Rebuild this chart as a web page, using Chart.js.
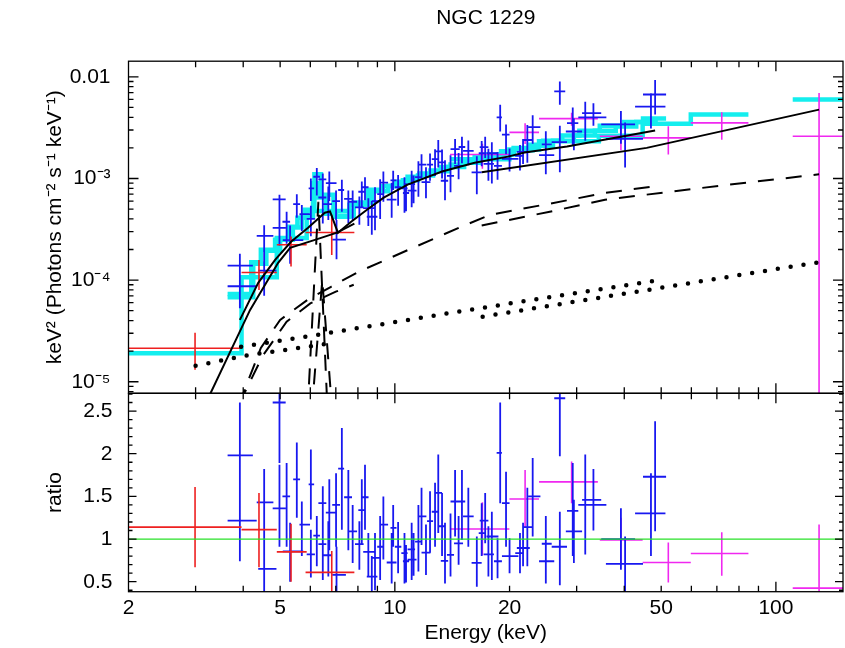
<!DOCTYPE html>
<html>
<head>
<meta charset="utf-8">
<script src="https://cdn.jsdelivr.net/npm/chart.js@4.4.1/dist/chart.umd.min.js"></script>
<style>
  html, body { margin: 0; padding: 0; background: #fff; }
  #wrap { position: relative; width: 845px; height: 648px; }
  #wrap canvas { position: absolute; left: 0; top: 0; }
</style>
</head>
<body>
<div id="wrap">
  <canvas id="specChart" width="845" height="648"></canvas>
  <canvas id="ratioChart" width="845" height="648"></canvas>
</div>
<script>
// ---- axis ranges ----
const eMin = 2, eMax = 150;
const fluxMin = 7.7e-6, fluxMax = 0.01425;
const ratioMin = 0.383, ratioMax = 2.708;

// ---- red spectrum (low energy) ----
const redE = [2.99, 4.40, 5.34, 6.83];
const redElo = [2.0, 3.96, 4.90, 5.83];
const redEhi = [3.96, 4.90, 5.87, 7.83];
const redFlux = [2.14e-5, 1.19e-4, 2.23e-4, 2.94e-4];
const redFluxLo = [1.31e-5, 8.0e-5, 1.36e-4, 1.77e-4];
const redFluxHi = [3.03e-5, 1.58e-4, 2.69e-4, 4.40e-4];
const redRatio = [1.14, 1.11, 0.85, 0.61];
const redRatioLo = [0.67, 0.67, 0.50, 0.30];
const redRatioHi = [1.61, 1.54, 1.18, 0.86];

// ---- blue spectrum ----
const blueE = [
  3.92, 3.92, 4.54, 4.54, 4.98, 4.98, 5.20, 5.31, 5.53, 5.70,
  6.02, 6.02, 6.24, 6.47, 6.47, 6.69, 6.73, 7.01, 7.03, 7.26,
  7.55, 7.75, 8.07, 8.19, 8.35, 8.52, 8.70, 8.87, 9.15, 9.33,
  9.81, 9.90, 10.2, 10.6, 10.7, 11.07, 11.2, 11.53, 11.75, 12.07,
  12.37, 12.75, 13.0, 13.3, 13.54, 14.0, 14.39, 14.7, 15.0, 15.59,
  16.41, 16.9, 17.26, 17.6, 17.97, 18.6, 18.9, 19.58, 20.0, 21.3,
  21.7, 22.27, 23.0, 24.9, 24.9, 27.1, 27.1, 29.3, 29.5, 31.6,
  33.2, 39.2, 40.2, 47.0, 48.2];
const blueElo = [
  3.64, 3.64, 4.34, 4.38, 4.78, 4.78, 5.07, 5.08, 5.41, 5.62,
  5.94, 5.87, 6.11, 6.30, 6.30, 6.48, 6.59, 6.85, 6.85, 7.10,
  7.36, 7.55, 7.86, 8.02, 8.18, 8.26, 8.44, 8.70, 8.99, 9.15,
  9.52, 9.74, 10.0, 10.4, 10.5, 10.8, 10.8, 11.3, 11.5, 11.75,
  12.15, 12.5, 12.75, 13.0, 13.2, 13.7, 14.0, 14.3, 14.7, 15.1,
  15.9, 16.6, 16.7, 17.1, 17.4, 18.2, 18.5, 19.1, 19.1, 20.7,
  20.9, 21.6, 22.4, 24.3, 23.9, 26.2, 25.8, 28.3, 28.1, 30.3,
  31.0, 34.8, 35.8, 42.7, 44.8];
const blueEhi = [
  4.24, 4.34, 4.80, 4.89, 5.17, 5.17, 5.31, 5.75, 5.64, 5.99,
  6.14, 6.17, 6.36, 6.61, 6.61, 6.84, 7.03, 7.18, 7.44, 7.36,
  7.72, 7.96, 8.28, 8.35, 8.53, 8.90, 9.00, 9.15, 9.33, 9.60,
  10.1, 10.1, 10.4, 10.8, 10.9, 11.3, 11.4, 11.75, 12.1, 12.4,
  12.6, 13.0, 13.3, 13.5, 13.8, 14.3, 14.8, 15.1, 15.3, 16.1,
  16.9, 17.3, 17.6, 18.2, 18.7, 19.1, 19.1, 20.0, 21.1, 21.8,
  22.6, 22.9, 24.1, 25.8, 26.2, 28.0, 28.3, 30.3, 31.0, 35.9,
  34.8, 42.7, 44.8, 51.3, 51.5];
const blueFlux = [
  1.39e-4, 8.7e-5, 2.72e-4, 1.24e-4, 6.24e-4, 3.26e-4, 3.75e-4, 2.48e-4, 5.6e-4, 4.45e-4,
  8.0e-4, 4.0e-4, 1.04e-3, 9.8e-4, 6.5e-4, 5.6e-4, 9.0e-4, 6.0e-4, 2.5e-4, 7.7e-4,
  6.3e-4, 5.9e-4, 5.2e-4, 7.4e-4, 8.2e-4, 5.1e-4, 4.2e-4, 6.0e-4, 7.0e-4, 9.1e-4,
  6.2e-4, 9.6e-4, 8.2e-4, 8.0e-4, 7.2e-4, 8.8e-4, 7.6e-4, 1.03e-3, 1.37e-3, 9.2e-4,
  1.37e-3, 1.55e-3, 1.85e-3, 1.44e-3, 9.5e-4, 1.06e-3, 1.94e-3, 1.33e-3, 2.04e-3, 1.87e-3,
  1.15e-3, 1.77e-3, 2.03e-3, 1.39e-3, 1.77e-3, 1.33e-3, 4.0e-3, 2.7e-3, 1.56e-3, 1.67e-3,
  1.83e-3, 2.39e-3, 3.2e-3, 2.17e-3, 1.7e-3, 7.2e-3, 2.28e-3, 3.5e-3, 2.9e-3, 4.0e-3,
  4.4e-3, 3.4e-3, 2.45e-3, 5.1e-3, 6.7e-3];
const blueFluxLo = [
  9.5e-5, 5.3e-5, 1.96e-4, 7.0e-5, 4.5e-4, 2.18e-4, 2.28e-4, 1.45e-4, 4.1e-4, 3.04e-4,
  6.0e-4, 2.7e-4, 6.8e-4, 6.4e-4, 3.6e-4, 3.9e-4, 6.0e-4, 3.9e-4, 1.6e-4, 4.7e-4,
  3.65e-4, 3.9e-4, 3.5e-4, 5.2e-4, 6.1e-4, 3.4e-4, 2.8e-4, 3.1e-4, 4.0e-4, 5.9e-4,
  4.1e-4, 7.7e-4, 5.4e-4, 4.6e-4, 4.75e-4, 5.2e-4, 5.7e-4, 6.6e-4, 1.0e-3, 6.4e-4,
  9.5e-4, 1.06e-3, 1.28e-3, 1.0e-3, 6.1e-4, 7.3e-4, 1.39e-3, 9.8e-4, 1.41e-3, 1.35e-3,
  7.0e-4, 1.32e-3, 1.59e-3, 9.5e-4, 8.9e-4, 9.7e-4, 2.9e-3, 1.73e-3, 1.17e-3, 1.2e-3,
  1.39e-3, 1.43e-3, 2.2e-3, 1.47e-3, 1.1e-3, 5.3e-3, 1.15e-3, 2.1e-3, 1.9e-3, 2.35e-3,
  3.3e-3, 2.2e-3, 1.28e-3, 3.1e-3, 4.25e-3];
const blueFluxHi = [
  1.82e-4, 1.22e-4, 3.46e-4, 1.96e-4, 6.9e-4, 4.5e-4, 4.7e-4, 3.45e-4, 7.0e-4, 5.47e-4,
  1.0e-3, 5.4e-4, 1.27e-3, 1.12e-3, 8.35e-4, 8.35e-4, 1.17e-3, 7.6e-4, 3.9e-4, 9.7e-4,
  7.6e-4, 7.6e-4, 6.65e-4, 9.35e-4, 1.03e-3, 6.4e-4, 6.0e-4, 8.2e-4, 9.8e-4, 1.17e-3,
  9.1e-4, 1.19e-3, 1.08e-3, 1.03e-3, 9.0e-4, 1.19e-3, 1.07e-3, 1.48e-3, 1.73e-3, 1.29e-3,
  1.76e-3, 1.94e-3, 2.39e-3, 1.93e-3, 1.51e-3, 1.69e-3, 2.44e-3, 1.78e-3, 2.57e-3, 2.37e-3,
  1.65e-3, 2.34e-3, 2.57e-3, 1.96e-3, 2.27e-3, 1.82e-3, 5.3e-3, 3.4e-3, 1.97e-3, 2.14e-3,
  2.44e-3, 3.36e-3, 4.2e-3, 2.92e-3, 2.19e-3, 9.0e-3, 3.3e-3, 5.0e-3, 3.9e-3, 5.7e-3,
  5.5e-3, 4.6e-3, 3.55e-3, 6.9e-3, 9.3e-3];
const blueRatio = [
  1.98, 1.215, 1.43, 0.65, 2.60, 1.36, 1.50, 0.855, 1.70, 1.17,
  1.64, 0.82, 1.04, 1.42, 0.94, 0.81, 1.31, 1.40, 0.58, 1.825,
  1.49, 1.09, 0.94, 1.34, 1.49, 0.85, 0.56, 0.78, 0.91, 1.17,
  0.725, 1.13, 0.91, 0.835, 0.74, 0.88, 0.76, 0.97, 1.265, 0.84,
  1.21, 1.32, 1.54, 1.15, 0.745, 0.815, 1.44, 0.95, 1.44, 1.265,
  0.72, 1.07, 1.215, 0.82, 1.03, 0.74, 2.01, 1.42, 0.80, 0.835,
  0.895, 1.14, 1.50, 0.945, 0.74, 2.65, 0.91, 1.33, 1.09, 1.40,
  1.46, 1.0, 0.71, 1.30, 1.73];
const blueRatioLo = [
  1.36, 0.74, 1.03, 0.37, 1.89, 0.91, 0.91, 0.50, 1.25, 0.80,
  1.23, 0.55, 0.68, 0.93, 0.52, 0.56, 0.87, 0.91, 0.37, 1.11,
  0.87, 0.72, 0.64, 0.95, 1.11, 0.56, 0.37, 0.40, 0.52, 0.76,
  0.48, 0.91, 0.60, 0.48, 0.49, 0.52, 0.57, 0.62, 0.93, 0.58,
  0.84, 0.91, 1.07, 0.80, 0.48, 0.56, 1.03, 0.70, 0.99, 0.91,
  0.44, 0.80, 0.95, 0.56, 0.52, 0.54, 1.42, 0.91, 0.60, 0.60,
  0.68, 0.68, 1.03, 0.64, 0.48, 1.97, 0.46, 0.80, 0.72, 0.82,
  1.10, 0.64, 0.37, 0.80, 1.09];
const blueRatioHi = [
  2.60, 1.70, 1.82, 1.03, 2.89, 1.87, 1.89, 1.19, 2.13, 1.44,
  2.05, 1.11, 1.27, 1.62, 1.21, 1.21, 1.70, 1.77, 0.91, 2.30,
  1.81, 1.40, 1.21, 1.70, 1.87, 1.07, 0.80, 1.07, 1.27, 1.50,
  1.07, 1.40, 1.20, 1.07, 0.93, 1.19, 1.07, 1.40, 1.60, 1.17,
  1.56, 1.66, 1.99, 1.54, 1.19, 1.30, 1.81, 1.27, 1.81, 1.60,
  1.03, 1.42, 1.54, 1.15, 1.32, 1.01, 2.60, 1.79, 1.01, 1.07,
  1.19, 1.60, 1.95, 1.27, 0.95, 2.75, 1.32, 1.89, 1.46, 1.99,
  1.82, 1.36, 1.03, 1.77, 2.38];

// ---- magenta spectrum (hard X-ray) ----
const magE = [16.97, 21.97, 29.1, 39.2, 52.2, 72.1, 129.8];
const magElo = [13.96, 19.98, 23.9, 34.5, 44.7, 59.8, 110.7];
const magEhi = [19.98, 23.9, 34.1, 44.7, 59.8, 84.7, 150];
const magFlux = [1.72e-3, 2.84e-3, 3.88e-3, 2.6e-3, 2.51e-3, 3.52e-3, 2.6e-3];
const magFluxLo = [1.25e-3, 2.18e-3, 3.3e-3, 1.9e-3, 1.72e-3, 2.41e-3, 1e-7];
const magFluxHi = [2.2e-3, 3.5e-3, 4.43e-3, 3.3e-3, 3.26e-3, 4.48e-3, 6.95e-3];
const magRatio = [1.117, 1.47, 1.67, 0.99, 0.725, 0.83, 0.425];
const magRatioLo = [0.81, 1.13, 1.42, 0.72, 0.49, 0.57, -1];
const magRatioHi = [1.43, 1.81, 1.91, 1.25, 0.96, 1.08, 1.17];

// ---- folded models (cyan histograms): bin edges + values ----
const cyanXmmEdges = [2.0, 3.96, 4.90, 5.87, 7.83];
const cyanXmmVal = [1.91e-5, 1.07e-4, 2.6e-4, 4.8e-4];
const cyanNuAEdges = [3.64, 4.2, 4.45, 4.85, 5.25, 5.55, 5.8, 6.15, 6.4, 6.9, 7.6, 8.5, 9.3, 10.0, 10.8,
  11.6, 12.4, 13.2, 14.0, 15.0, 16.2, 17.5, 19.0, 20.5, 22.5, 24.5, 27.5, 30.5, 34.5, 40.0, 44.8, 51.5];
const cyanNuAVal = [7.3e-5, 1.5e-4, 1.99e-4, 2.49e-4, 3.35e-4, 4.11e-4, 4.93e-4, 1.1e-3, 6.9e-4, 4.2e-4,
  5.5e-4, 7.76e-4, 8.4e-4, 9.3e-4, 1.04e-3, 1.12e-3, 1.2e-3, 1.3e-3, 1.37e-3, 1.5e-3,
  1.62e-3, 1.72e-3, 1.85e-3, 2.0e-3, 2.15e-3, 2.35e-3, 2.65e-3, 2.95e-3, 3.3e-3, 3.6e-3, 3.9e-3];
const cyanNuBEdges = [3.64, 4.25, 4.6, 5.0, 5.4, 5.7, 6.1, 6.3, 6.6, 7.0, 7.8, 8.7, 9.6, 10.5, 11.5,
  12.6, 13.8, 15.2, 16.8, 18.5, 20.5, 23.0, 26.0, 29.5, 33.5, 38.0, 43.0, 49.0];
const cyanNuBVal = [6.8e-5, 1.45e-4, 1.95e-4, 2.5e-4, 3.3e-4, 4.2e-4, 9.0e-4, 6.5e-4, 4.5e-4, 4.3e-4,
  5.8e-4, 7.5e-4, 8.5e-4, 9.6e-4, 1.07e-3, 1.18e-3, 1.3e-3, 1.43e-3, 1.57e-3, 1.72e-3,
  1.9e-3, 2.1e-3, 2.35e-3, 2.65e-3, 2.95e-3, 3.25e-3, 3.6e-3];
const cyanBatEdges = [13.96, 19.98, 23.9, 34.3, 44.7, 59.8, 84.7, 110.7, 150];
const cyanBatVal = [1.55e-3, 1.93e-3, 2.32e-3, 2.63e-3, 3.46e-3, 4.25e-3, null, 6.0e-3];

// ---- unfolded model curves (black) ----
const totNuE = [3.92, 4.04, 4.38, 4.85, 5.34, 5.92, 6.55, 6.76, 7.09, 7.68, 8.45, 9.35, 10.8, 13.3, 16.2, 19.8, 21.9, 28.3, 48.2];
const totNuV = [4.06e-5, 5.1e-5, 9.4e-5, 1.58e-4, 2.38e-4, 3.27e-4, 4.6e-4, 4.75e-4, 2.92e-4, 3.75e-4, 4.93e-4, 6.47e-4, 8.7e-4, 1.17e-3, 1.43e-3, 1.64e-3, 1.8e-3, 2.06e-3, 2.96e-3];
const totXmmE = [3.2, 4.17, 4.48, 4.94, 5.31, 6.17, 7.05, 7.83];
const totXmmV = [6.3e-6, 5.09e-5, 8.0e-5, 1.48e-4, 2.08e-4, 2.49e-4, 2.93e-4, 3.6e-4];
const totBatE = [16.9, 45.8, 129.8];
const totBatV = [1.15e-3, 2.0e-3, 4.76e-3];

const contNuE = [3.9, 4.45, 5.0, 5.9, 6.8, 8.0, 10.9, 14.8, 17.8, 25.5, 35.6, 48.2];
const contNuV = [6e-6, 2.15e-5, 4.06e-5, 6.4e-5, 8.6e-5, 1.2e-4, 2.0e-4, 3.3e-4, 4.4e-4, 5.65e-4, 7.2e-4, 8.4e-4];
const contXmmE = [3.9, 4.5, 5.2, 6.0, 7.0, 7.8];
const contXmmV = [6e-6, 1.8e-5, 3.9e-5, 5.9e-5, 7.7e-5, 9.0e-5];
const contBatE = [16.9, 25.5, 35.6, 61.4, 88.2, 129.8];
const contBatV = [3.45e-4, 4.71e-4, 6.18e-4, 7.93e-4, 9.3e-4, 1.1e-3];
const feNuE = [5.9, 6.3, 6.66];
const feNuV = [5e-6, 5.9e-4, 5e-6];
const feXmmE = [6.05, 6.45, 6.85];
const feXmmV = [5e-6, 1.0e-4, 5e-6];

const reflXmmE = [3.0, 4.17, 6.4, 7.0];
const reflXmmV = [1.44e-5, 1.84e-5, 2.31e-5, 2.45e-5];
const reflNuE = [3.95, 6.48, 16.2, 44.0, 48.2];
const reflNuV = [2.21e-5, 2.96e-5, 5.2e-5, 9.33e-5, 9.85e-5];
const reflBatE = [17.0, 125.3, 129.8];
const reflBatV = [4.37e-5, 1.47e-4, 1.5e-4];

// ---- helpers ----
const SUP = {'-': '\u207B', '0': '\u2070', '1': '\u00B9', '2': '\u00B2', '3': '\u00B3', '4': '\u2074',
  '5': '\u2075', '6': '\u2076', '7': '\u2077', '8': '\u2078', '9': '\u2079'};
const sup = n => String(n).split('').map(c => SUP[c]).join('');
const isDecade = v => { const l = Math.log10(v); return Math.abs(l - Math.round(l)) < 1e-6; };

function logTicks(min, max) {
  const out = [];
  for (let e = Math.floor(Math.log10(min)); e <= Math.ceil(Math.log10(max)); e++) {
    for (let m = 1; m < 10; m++) {
      const v = m * Math.pow(10, e);
      if (v > min && v < max) out.push({value: v});
    }
  }
  return out;
}

function crossPoints(e, elo, ehi, v, vlo, vhi) {
  const pts = [];
  e.forEach((x, i) => {
    pts.push({x: elo[i], y: v[i]}, {x: ehi[i], y: v[i]}, {x: ehi[i], y: null});
    pts.push({x: x, y: vlo[i]}, {x: x, y: vhi[i]}, {x: x, y: null});
  });
  return pts;
}
function stepPoints(edges, vals) {
  const pts = [];
  vals.forEach((v, i) => pts.push({x: edges[i], y: v}, {x: edges[i + 1], y: v}));
  return pts;
}
const curve = (xs, ys) => xs.map((x, i) => ({x: x, y: ys[i]}));

const RED = 'rgb(238,32,32)', BLUE = 'rgb(24,24,240)', MAG = 'rgb(240,40,240)', CYAN = 'rgb(20,238,238)';

const base = {pointRadius: 0, fill: false, spanGaps: false, clip: 0, tension: 0};
const cross = (pts, color, w) => Object.assign({}, base, {data: pts, borderColor: color, borderWidth: w, order: 2});
const step = (pts) => Object.assign({}, base, {data: pts, borderColor: CYAN, borderWidth: 4.5, order: 3});
const solid = (pts) => Object.assign({}, base, {data: pts, borderColor: '#000', borderWidth: 2, order: 1});
const dashed = (pts) => Object.assign({}, base, {data: pts, borderColor: '#000', borderWidth: 2, borderDash: [16, 12], order: 1});
const dotted = (pts) => Object.assign({}, base, {data: pts, borderColor: '#000', borderWidth: 4.5,
  borderDash: [0, 13], borderCapStyle: 'round', order: 1});

// frame + inward ticks on all four sides
const frameTicks = {
  id: 'frameTicks',
  afterDatasetsDraw(chart, args, opts) {
    const {ctx, chartArea: a} = chart;
    const xs = chart.scales.x, ys = chart.scales.y;
    ctx.save();
    ctx.strokeStyle = '#000';
    ctx.lineWidth = 1.3;
    ctx.beginPath();
    xs.ticks.forEach(t => {
      if (t.value <= xs.min || t.value >= xs.max) return;
      const p = xs.getPixelForValue(t.value);
      const len = isDecade(t.value) ? 10 : 6;
      ctx.moveTo(p, a.bottom); ctx.lineTo(p, a.bottom - len);
      ctx.moveTo(p, a.top); ctx.lineTo(p, a.top + len);
    });
    ys.ticks.forEach(t => {
      if (t.value <= ys.min || t.value >= ys.max) return;
      const p = ys.getPixelForValue(t.value);
      let len;
      if (opts.ratio) len = Math.abs(t.value * 2 - Math.round(t.value * 2)) < 1e-6 ? 8 : 4;
      else len = isDecade(t.value) ? 10 : 5;
      ctx.moveTo(a.left, p); ctx.lineTo(a.left + len, p);
      ctx.moveTo(a.right, p); ctx.lineTo(a.right - len, p);
    });
    ctx.stroke();
    ctx.strokeRect(a.left, a.top, a.right - a.left, a.bottom - a.top);
    ctx.restore();
  }
};

Chart.defaults.font.family = '"Liberation Sans", Arial, Helvetica, sans-serif';
Chart.defaults.font.size = 21;
Chart.defaults.color = '#000';

const xTickList = () => logTicks(eMin, eMax).concat([{value: eMin}]).sort((p, q) => p.value - q.value);
const xLabels = [2, 5, 10, 20, 50, 100];

// ---- top panel: unfolded spectrum ----
new Chart(document.getElementById('specChart'), {
  type: 'line',
  data: {
    datasets: [
      step(stepPoints(cyanXmmEdges, cyanXmmVal)),
      step(stepPoints(cyanNuAEdges, cyanNuAVal)),
      step(stepPoints(cyanNuBEdges, cyanNuBVal)),
      step(stepPoints(cyanBatEdges, cyanBatVal)),
      cross(crossPoints(redE, redElo, redEhi, redFlux, redFluxLo, redFluxHi), RED, 1.6),
      cross(crossPoints(blueE, blueElo, blueEhi, blueFlux, blueFluxLo, blueFluxHi), BLUE, 1.8),
      cross(crossPoints(magE, magElo, magEhi, magFlux, magFluxLo, magFluxHi), MAG, 1.6),
      solid(curve(totNuE, totNuV)),
      solid(curve(totXmmE, totXmmV)),
      solid(curve(totBatE, totBatV)),
      dashed(curve(contNuE, contNuV)),
      dashed(curve(contXmmE, contXmmV)),
      dashed(curve(contBatE, contBatV)),
      dashed(curve(feNuE, feNuV)),
      dashed(curve(feXmmE, feXmmV)),
      dotted(curve(reflXmmE, reflXmmV)),
      dotted(curve(reflNuE, reflNuV)),
      dotted(curve(reflBatE, reflBatV))
    ]
  },
  options: {
    responsive: false,
    animation: false,
    events: [],
    layout: {padding: {left: 0, right: 2, top: 0, bottom: 254.7}},
    plugins: {
      legend: {display: false},
      tooltip: {enabled: false},
      title: {display: true, text: 'NGC 1229', fullSize: false,
        font: {size: 21, weight: 'normal'}, padding: {top: 5.7, bottom: 30.3}},
      frameTicks: {ratio: false}
    },
    scales: {
      x: {
        type: 'logarithmic', min: eMin, max: eMax, bounds: 'data',
        grid: {display: false, drawTicks: false}, border: {display: false},
        ticks: {display: false},
        afterBuildTicks: s => { s.ticks = xTickList(); },
        afterFit: s => { s.height = 0; }
      },
      y: {
        type: 'logarithmic', min: fluxMin, max: fluxMax, bounds: 'data',
        grid: {display: false, drawTicks: false}, border: {display: false},
        ticks: {
          padding: 18, autoSkip: false,
          callback: v => {
            if (!isDecade(v)) return '';
            const e = Math.round(Math.log10(v));
            return e === -2 ? '0.01' : '10' + sup(e);
          }
        },
        title: {display: true, text: 'keV\u00B2 (Photons cm\u207B\u00B2 s\u207B\u00B9 keV\u207B\u00B9)',
          padding: {top: 42.5, bottom: 0}},
        afterBuildTicks: s => { s.ticks = logTicks(fluxMin, fluxMax); },
        afterFit: s => { s.width = 128.5; }
      }
    }
  },
  plugins: [frameTicks]
});

// ---- bottom panel: data / model ratio ----
const ratioTickList = () => {
  const out = [];
  for (let k = 4; k <= 27; k++) out.push({value: Math.round(k * 10) / 100});
  return out;
};

new Chart(document.getElementById('ratioChart'), {
  type: 'line',
  data: {
    datasets: [
      Object.assign({}, base, {data: [{x: eMin, y: 1}, {x: eMax, y: 1}], borderColor: 'rgb(40,225,40)', borderWidth: 1.3, order: 0}),
      cross(crossPoints(redE, redElo, redEhi, redRatio, redRatioLo, redRatioHi), RED, 1.6),
      cross(crossPoints(blueE, blueElo, blueEhi, blueRatio, blueRatioLo, blueRatioHi), BLUE, 1.8),
      cross(crossPoints(magE, magElo, magEhi, magRatio, magRatioLo, magRatioHi), MAG, 1.6)
    ]
  },
  options: {
    responsive: false,
    animation: false,
    events: [],
    layout: {padding: {left: 0, right: 2, top: 393.3, bottom: 0}},
    plugins: {
      legend: {display: false},
      tooltip: {enabled: false},
      frameTicks: {ratio: true}
    },
    scales: {
      x: {
        type: 'logarithmic', min: eMin, max: eMax, bounds: 'data',
        grid: {display: false, drawTicks: false}, border: {display: false},
        ticks: {
          padding: 4, autoSkip: false, maxRotation: 0, minRotation: 0,
          callback: v => xLabels.some(l => Math.abs(l - v) < 1e-6) ? String(Math.round(v)) : ''
        },
        title: {display: true, text: 'Energy (keV)', padding: {top: 0, bottom: 2.4}},
        afterBuildTicks: s => { s.ticks = xTickList(); },
        afterFit: s => { s.height = 56.3; }
      },
      y: {
        type: 'linear', min: ratioMin, max: ratioMax, bounds: 'data',
        grid: {display: false, drawTicks: false}, border: {display: false},
        ticks: {
          padding: 16, autoSkip: false,
          callback: v => {
            const h = v * 2;
            if (Math.abs(h - Math.round(h)) > 1e-6) return '';
            return String(Math.round(v * 10) / 10);
          }
        },
        title: {display: true, text: 'ratio', padding: {top: 42.5, bottom: 0}},
        afterBuildTicks: s => { s.ticks = ratioTickList(); },
        afterFit: s => { s.width = 128.5; }
      }
    }
  },
  plugins: [frameTicks]
});
</script>
</body>
</html>
